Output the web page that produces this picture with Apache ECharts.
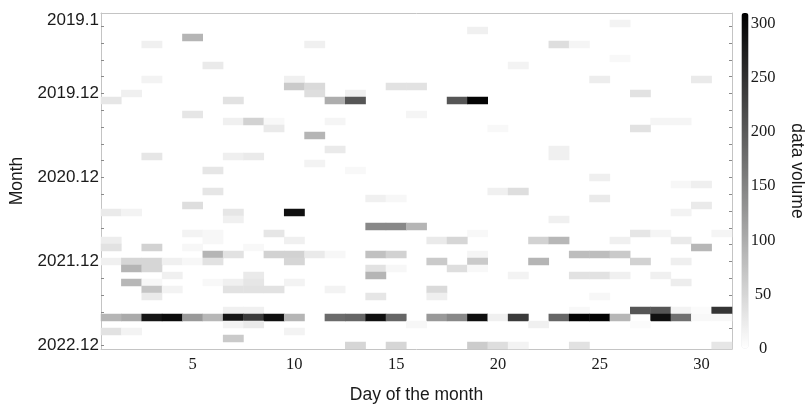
<!DOCTYPE html>
<html>
<head>
<meta charset="utf-8">
<script src="https://cdn.jsdelivr.net/npm/echarts@6/dist/echarts.min.js"></script>
<style>
  html, body { margin: 0; padding: 0; background: #fff; }
  #heat { width: 806px; height: 405px; }
</style>
</head>
<body>
<div id="heat"></div>
<script>
// days of the month (x) and months (y)
var days = [];
for (var d = 1; d <= 31; d++) days.push(String(d));
var years = [2019, 2020, 2021, 2022];
var months = [];
years.forEach(function (y) {
  for (var m = 1; m <= 12; m++) months.push(y + '.' + m);
});
var monthLabels = ['2019.1', '2019.12', '2020.12', '2021.12', '2022.12'];
var colorTicks = [0, 50, 100, 150, 200, 250, 300];

// [month, day, data volume], one list per year
var cells2019 = [
  [2, 26, 15], [3, 19, 18], [4, 5, 90],
  [5, 3, 18], [5, 11, 18], [5, 23, 40], [5, 24, 12],
  [7, 26, 8], [8, 6, 25], [8, 21, 15],
  [10, 3, 15], [10, 10, 18], [10, 25, 22], [10, 30, 25],
  [11, 10, 65], [11, 11, 45], [11, 15, 35], [11, 16, 35],
  [12, 2, 18], [12, 11, 40], [12, 13, 18], [12, 27, 35]
];
var cells2020 = [
  [1, 1, 30], [1, 7, 35], [1, 12, 100], [1, 13, 205], [1, 18, 205], [1, 19, 305],
  [3, 5, 30], [3, 16, 12],
  [4, 7, 18], [4, 8, 55], [4, 9, 8], [4, 12, 12], [4, 28, 12], [4, 29, 12],
  [5, 9, 25], [5, 20, 8], [5, 27, 35],
  [6, 11, 90],
  [8, 12, 25], [8, 23, 18],
  [9, 3, 30], [9, 7, 20], [9, 8, 25], [9, 23, 18],
  [10, 11, 15], [11, 6, 30], [11, 13, 8], [12, 25, 20]
];
var cells2021 = [
  [1, 29, 10], [1, 30, 20],
  [2, 6, 30], [2, 20, 18], [2, 21, 40],
  [3, 14, 18], [3, 15, 10], [3, 25, 25],
  [4, 5, 40], [4, 30, 25],
  [5, 1, 25], [5, 2, 15], [5, 7, 30], [5, 10, 290], [5, 29, 15],
  [6, 7, 18], [6, 23, 18],
  [7, 14, 145], [7, 15, 145], [7, 16, 90],
  [8, 5, 15], [8, 6, 10], [8, 9, 30], [8, 19, 8], [8, 27, 30], [8, 28, 12], [8, 31, 12],
  [9, 1, 22], [9, 6, 10], [9, 10, 18], [9, 17, 25], [9, 18, 50], [9, 22, 55],
  [9, 23, 88], [9, 26, 18], [9, 29, 25],
  [10, 1, 35], [10, 3, 55], [10, 5, 10], [10, 8, 8], [10, 30, 88],
  [11, 6, 90], [11, 7, 35], [11, 9, 55], [11, 10, 55], [11, 11, 25], [11, 12, 10],
  [11, 14, 75], [11, 15, 55], [11, 19, 12], [11, 24, 80], [11, 25, 80], [11, 26, 65],
  [12, 1, 18], [12, 2, 50], [12, 3, 50], [12, 4, 18], [12, 5, 10], [12, 6, 35],
  [12, 10, 50], [12, 17, 65], [12, 19, 65], [12, 22, 90], [12, 27, 55], [12, 29, 20]
];
var cells2022 = [
  [1, 2, 90], [1, 3, 50], [1, 14, 35], [1, 15, 10], [1, 18, 40], [1, 19, 8],
  [2, 4, 18], [2, 8, 25], [2, 14, 90], [2, 21, 15], [2, 24, 35], [2, 25, 35], [2, 26, 18], [2, 28, 18],
  [3, 2, 88], [3, 3, 10], [3, 6, 8], [3, 7, 18], [3, 8, 30], [3, 10, 15], [3, 29, 22],
  [4, 3, 70], [4, 4, 15], [4, 7, 35], [4, 8, 35], [4, 9, 35], [4, 12, 15], [4, 17, 45],
  [5, 3, 25], [5, 14, 30], [5, 17, 20], [5, 25, 10],
  [7, 7, 18], [7, 8, 18], [7, 24, 8], [7, 27, 205], [7, 28, 205], [7, 29, 15], [7, 30, 5], [7, 31, 245],
  [8, 1, 90], [8, 2, 103], [8, 3, 283], [8, 4, 295], [8, 5, 124], [8, 6, 88], [8, 7, 283],
  [8, 8, 238], [8, 9, 292], [8, 10, 90], [8, 12, 180], [8, 13, 186], [8, 14, 290], [8, 15, 186],
  [8, 17, 124], [8, 18, 145], [8, 19, 292], [8, 20, 18], [8, 21, 238], [8, 23, 186],
  [8, 24, 305], [8, 25, 305], [8, 26, 88], [8, 28, 290], [8, 29, 174], [8, 30, 8], [8, 31, 8],
  [9, 7, 15], [9, 8, 25], [9, 16, 10], [9, 22, 18], [9, 27, 5],
  [10, 1, 35], [10, 2, 15], [10, 10, 15],
  [11, 7, 65],
  [12, 13, 50], [12, 15, 50], [12, 19, 62], [12, 20, 40], [12, 21, 15], [12, 24, 35], [12, 31, 30]
];

// heatmap wants [x index, y index, value]
var heatData = [];
[cells2019, cells2020, cells2021, cells2022].forEach(function (list, yi) {
  list.forEach(function (c) {
    heatData.push([c[1] - 1, yi * 12 + c[0] - 1, c[2]]);
  });
});

var frameColor = '#c4c4c4';
var tickColor = '#8a8a8a';
var sans = '"Liberation Sans", Arial, sans-serif';
var serif = '"Liberation Serif", "Times New Roman", serif';

function isMajorDay(i) { return (i + 1) % 5 === 0; }
function isMonthLabel(i) { return monthLabels.indexOf(months[i]) >= 0; }

var chart = echarts.init(document.getElementById('heat'));
chart.setOption({
  animation: false,
  grid: [
    // heatmap
    { left: 101, right: 74, top: 13, height: 336, containLabel: false, outerBoundsMode: 'none' },
    // minor month ticks
    { left: 101, right: 74, top: 26.3, height: 319.2, containLabel: false, outerBoundsMode: 'none' },
    // colour bar labels
    { left: 741.5, width: 7, top: 13, height: 335.5, containLabel: false, outerBoundsMode: 'none' }
  ],
  xAxis: [
    {
      type: 'category', data: days, gridIndex: 0, position: 'bottom',
      name: 'Day of the month', nameLocation: 'middle', nameGap: 37,
      nameTextStyle: { fontFamily: sans, fontSize: 17.5, color: '#1a1a1a' },
      axisLine: { lineStyle: { color: frameColor } },
      axisTick: { interval: 0, alignWithLabel: true, inside: true, length: 3, lineStyle: { color: tickColor } },
      axisLabel: { interval: function (i) { return isMajorDay(i); }, margin: 7,
        fontFamily: serif, fontSize: 16.5, color: '#1a1a1a' },
      splitLine: { show: false }
    },
    {
      type: 'category', data: days, gridIndex: 0, position: 'bottom',
      axisLine: { show: false },
      axisTick: { interval: function (i) { return isMajorDay(i); }, alignWithLabel: true,
        inside: true, length: 6, lineStyle: { color: tickColor } },
      axisLabel: { show: false }
    },
    {
      type: 'category', data: days, gridIndex: 0, position: 'top',
      axisLine: { lineStyle: { color: frameColor } },
      axisTick: { interval: 0, alignWithLabel: true, inside: true, length: 3, lineStyle: { color: tickColor } },
      axisLabel: { show: false }
    },
    {
      type: 'category', data: days, gridIndex: 0, position: 'top',
      axisLine: { show: false },
      axisTick: { interval: function (i) { return isMajorDay(i); }, alignWithLabel: true,
        inside: true, length: 6, lineStyle: { color: tickColor } },
      axisLabel: { show: false }
    },
    { type: 'value', gridIndex: 1, min: 0, max: 1, show: false },
    { type: 'value', gridIndex: 2, min: 0, max: 1, show: false }
  ],
  yAxis: [
    {
      type: 'category', data: months, gridIndex: 0, inverse: true, position: 'left',
      name: 'Month', nameLocation: 'middle', nameRotate: 90, nameGap: 74,
      nameTextStyle: { fontFamily: sans, fontSize: 17.5, color: '#1a1a1a' },
      axisLine: { lineStyle: { color: frameColor } },
      axisTick: { interval: function (i) { return isMonthLabel(i) && i > 0; }, alignWithLabel: true,
        inside: true, length: 5, lineStyle: { color: tickColor } },
      axisLabel: {
        interval: function (i) { return isMonthLabel(i); }, margin: 2,
        fontFamily: sans, fontSize: 17, color: '#1a1a1a',
        // the first month label sits a little lower in the original
        formatter: function (v, i) { return i === 0 ? '{first|' + v + '}' : v; },
        rich: { first: { fontFamily: sans, fontSize: 17, color: '#1a1a1a', padding: [7, 0, 0, 0] } }
      },
      splitLine: { show: false }
    },
    {
      type: 'category', data: months, gridIndex: 0, inverse: true, position: 'right',
      axisLine: { lineStyle: { color: frameColor } },
      axisTick: { interval: function (i) { return isMonthLabel(i) && i > 0; }, alignWithLabel: true,
        inside: true, length: 5, lineStyle: { color: tickColor } },
      axisLabel: { show: false }
    },
    {
      type: 'value', gridIndex: 1, inverse: true, min: 2.4, max: 48, interval: 2.4, position: 'left',
      axisLine: { show: false }, axisLabel: { show: false }, splitLine: { show: false },
      axisTick: { inside: true, length: 3, lineStyle: { color: tickColor } }
    },
    {
      type: 'value', gridIndex: 1, inverse: true, min: 2.4, max: 48, interval: 2.4, position: 'right',
      axisLine: { show: false }, axisLabel: { show: false }, splitLine: { show: false },
      axisTick: { inside: true, length: 3, lineStyle: { color: tickColor } }
    },
    {
      type: 'value', gridIndex: 2, min: 0, max: 310, interval: 50, position: 'right',
      axisLine: { show: false }, axisTick: { show: false }, splitLine: { show: false },
      axisLabel: {
        margin: 14.5, align: 'center', showMaxLabel: false,
        fontFamily: serif, fontSize: 16.5, color: '#1a1a1a',
        formatter: function (v) { return colorTicks.indexOf(v) >= 0 ? String(v) : ''; }
      }
    }
  ],
  visualMap: {
    type: 'continuous', min: 0, max: 310, calculable: false, text: null,
    orient: 'vertical', left: 741.5, top: 13, itemWidth: 7, itemHeight: 335.5,
    padding: 0, showLabel: false,
    inRange: { color: ['#ffffff', '#000000'] }
  },
  graphic: [{
    type: 'text', x: 797, y: 171, rotation: -Math.PI / 2,
    style: { text: 'data volume', fontFamily: sans, fontSize: 17.5, fill: '#1a1a1a',
      align: 'center', verticalAlign: 'middle' }
  }],
  series: [{
    type: 'heatmap', xAxisIndex: 0, yAxisIndex: 0,
    data: heatData,
    itemStyle: { borderWidth: 0 },
    emphasis: { disabled: true }
  }]
});
</script>
</body>
</html>
